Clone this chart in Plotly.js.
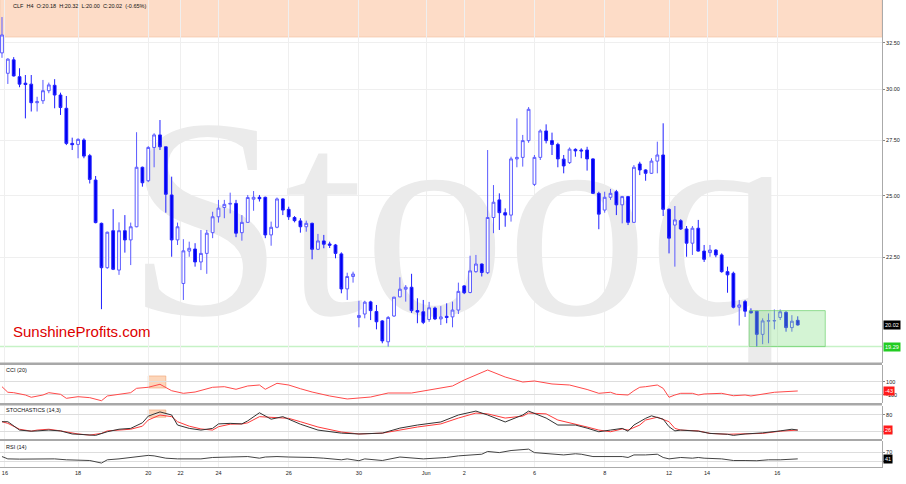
<!DOCTYPE html>
<html><head><meta charset="utf-8">
<script src="https://cdn.plot.ly/plotly-3.0.1.min.js"></script>
<style>html,body{margin:0;padding:0;background:#fff}#chart{width:906px;height:484px}</style>
</head><body><div id="chart"></div>
<script>
const ticker = 'CLF', interval = 'H4';
const opens  = [31.95,30.85,31.57,30.67,30.33,30.28,29.33,29.43,29.94,30.22,29.72,29.05,27.35,27.30,27.51,26.78,25.68,23.84,22.09,23.54,22.00,23.54,23.17,23.70,26.25,25.65,27.16,27.75,27.19,25.03,23.17,21.50,22.73,22.81,22.31,22.64,23.46,24.11,24.50,24.64,24.67,23.46,23.88,24.85,24.93,24.93,23.37,23.68,24.86,24.42,24.08,23.94,23.70,23.84,22.80,23.13,23.01,22.97,22.62,21.30,21.76,20.28,20.40,20.83,20.49,20.16,19.45,20.33,21.01,21.29,21.36,20.52,20.48,20.21,20.61,20.23,20.32,20.30,20.54,21.41,21.17,21.94,22.23,21.90,24.08,24.82,24.28,24.18,26.63,26.70,27.48,25.49,26.70,27.94,27.48,27.30,26.62,26.46,27.07,27.04,27.04,26.63,25.10,24.39,24.93,25.17,24.61,24.96,23.88,26.40,26.13,25.98,26.53,26.81,24.42,23.77,23.95,23.61,23.04,23.64,22.73,22.67,22.77,22.58,21.94,21.88,20.64,20.84,20.50,20.50,19.70,20.15,20.16,20.28,20.46,19.93,20.18];
const highs  = [33.98,31.66,31.72,31.12,30.76,30.76,29.63,30.50,30.36,30.54,29.84,29.67,27.62,27.59,27.59,26.86,25.86,23.87,23.50,24.43,23.88,24.18,23.87,27.88,26.28,27.22,27.83,28.47,27.19,25.83,23.87,23.20,23.10,23.04,23.57,23.57,24.32,24.82,24.82,25.13,24.82,24.18,25.03,25.20,25.03,24.96,23.91,24.92,24.89,24.53,24.14,24.05,23.95,23.87,23.41,23.37,23.10,23.01,22.68,21.90,21.94,20.87,20.87,20.87,20.72,20.19,20.33,21.01,21.73,21.44,21.86,20.96,20.90,20.83,20.66,20.68,20.78,20.84,21.53,21.44,22.55,22.58,22.25,27.04,25.46,25.10,24.46,26.73,28.55,27.75,29.11,26.81,28.02,28.26,27.86,27.38,26.81,27.16,27.12,27.12,27.19,26.66,25.17,25.17,25.29,25.25,24.99,24.99,26.35,26.50,26.16,26.66,27.43,28.31,24.46,24.56,24.01,23.73,23.73,23.98,22.97,22.97,22.80,22.64,22.13,21.94,20.90,20.90,20.60,20.51,20.25,20.42,20.56,20.56,20.50,20.36,20.32];
const lows   = [31.68,30.29,30.68,30.12,28.55,28.89,28.89,29.27,29.81,29.05,28.72,27.27,27.04,26.66,26.66,25.53,23.84,20.57,22.05,22.00,21.82,22.67,22.19,23.68,25.39,25.59,26.25,27.04,24.28,22.51,22.97,20.90,22.51,22.13,22.00,21.86,23.24,23.87,24.05,24.25,23.28,23.14,23.87,24.36,24.75,23.24,22.94,23.64,24.18,23.98,23.88,23.46,23.50,22.41,22.77,22.84,22.85,22.45,21.14,20.90,21.53,19.94,20.25,20.19,19.87,19.40,19.29,20.30,21.00,20.84,20.44,20.08,20.05,20.13,20.19,20.02,20.08,19.94,20.40,21.11,21.14,21.90,21.76,21.85,23.44,23.57,23.70,23.91,26.25,26.28,27.38,25.42,26.58,27.35,26.81,26.25,25.98,26.40,26.73,26.66,26.10,25.07,23.60,24.28,24.82,24.18,23.84,23.77,23.87,25.90,25.65,25.95,25.98,24.14,22.64,22.13,23.57,22.51,22.58,22.71,22.31,22.51,22.49,21.90,21.16,20.60,20.00,20.30,20.42,19.29,19.37,19.40,19.87,20.19,19.79,19.79,20.00];
const closes = [32.95,31.61,30.71,30.28,30.26,29.33,29.38,29.94,30.24,29.72,29.09,27.35,27.29,27.54,26.76,25.71,23.87,22.09,23.48,22.03,23.54,23.17,23.70,26.25,25.56,27.16,27.75,27.19,25.06,23.17,23.70,22.74,22.84,22.31,22.64,23.44,24.11,24.47,24.63,24.67,23.44,23.88,24.92,24.93,24.87,23.37,23.68,24.86,24.39,24.11,23.95,23.70,23.84,22.80,23.13,23.00,22.96,22.64,21.30,21.76,21.85,20.35,20.82,20.52,20.13,19.48,20.28,21.00,21.29,21.36,20.52,20.47,20.11,20.62,20.23,20.30,20.28,20.54,21.21,21.16,21.97,22.23,21.91,24.08,24.72,24.28,24.18,26.63,26.70,27.48,29.00,26.70,27.94,27.48,27.30,26.63,26.31,27.08,27.00,27.00,26.63,25.10,24.22,24.93,25.10,24.61,24.96,23.88,26.25,26.13,25.98,26.53,26.81,24.42,23.24,23.98,23.61,23.04,23.64,22.73,22.41,22.77,22.58,21.94,21.82,20.64,20.72,20.50,20.44,19.70,20.16,20.17,20.17,20.48,19.93,20.15,20.02];

const tickIdx    = [0.5, 13, 25, 30.5, 37, 49, 61, 72.5, 79, 91, 103, 114, 120.5, 132.5];
const tickLabels = ['16','18','20','22','24','26','30','Jun','2','6','8','12','14','16'];
const priceTicks = [22.5, 25, 27.5, 30, 32.5];

const resistanceLow = 32.84;
const supportLevel  = 19.29;
const boxTop = 20.52, boxBottom = 19.29;

const cciIdx = [0,1,2,4,5,7,8,10,11,13,15,17,18,20,22,23,25,27,29,31,33,36,38,40,42,44,45,47,49,51,53,56,59,63,66,70,73,77,79,82,83,86,89,91,94,97,100,102,104,105,107,108,109,110,112,113,114,115,116,118,119,120,123,125,127,128,130,132,136];
const cciVal = [23,-63,-69,-105,-140,-105,-69,-94,-156,-131,-146,-193,-120,-94,-69,-2,14,60,-39,-79,-59,14,23,-17,34,49,-17,75,49,-8,-59,-120,-166,-136,-74,-74,-28,34,126,249,280,172,95,111,65,49,-20,-79,-63,-94,-105,-39,14,23,49,-2,-140,-105,-79,-79,-105,-89,-79,-116,-105,-120,-89,-63,-43];

const stochKIdx = [0,1,3,5,6,8,10,12,13,15,16,18,20,22,24,25,27,29,30,32,34,36,37,39,41,42,44,46,48,49,51,54,58,61,65,68,71,75,78,81,83,86,89,90,93,95,98,100,102,104,106,107,108,110,111,113,114,115,116,119,121,124,125,127,130,133,135,136];
const stochK    = [56,56,26,22,23,26,23,12,11,8,7,20,29,32,52,76,91,80,44,32,26,32,48,50,48,59,88,65,74,65,47,26,15,12,15,33,44,55,80,94,80,55,80,94,69,44,44,33,20,26,32,22,44,68,77,65,38,23,26,22,14,11,7,12,16,23,29,26];
const stochDIdx = [0,1,3,5,6,8,10,12,13,15,17,18,20,22,24,25,27,29,30,32,34,36,37,39,41,42,44,46,48,49,51,54,58,61,65,68,71,75,78,81,83,86,89,90,93,95,98,100,102,104,106,107,109,110,112,114,115,116,119,121,124,127,130,133,136];
const stochD    = [56,50,29,22,26,29,23,14,12,8,14,23,26,29,40,62,80,74,56,40,30,26,38,47,48,52,74,72,68,68,56,37,19,12,15,26,37,48,69,87,84,69,76,87,84,62,48,37,26,20,30,26,44,62,72,56,32,26,23,14,11,12,14,22,26];

const rsiIdx = [0,1,3,5,7,9,11,13,15,17,18,20,22,24,25,26,28,30,32,34,36,38,39,42,44,45,47,49,51,53,55,58,59,61,62,65,68,70,72,74,76,78,80,82,83,85,87,90,91,93,96,98,99,101,102,104,106,107,108,110,112,113,114,116,118,119,120,123,125,127,129,131,133,136];
const rsiVal = [51,41,40,41,41,41,37,34,34,23,37,41,47,51,56,54,44,41,40,41,47,47,49,51,44,49,51,49,49,47,44,37,41,33,41,34,49,44,41,44,47,54,58,61,73,68,77,83,68,63,58,63,61,51,51,54,51,47,58,58,61,47,41,47,44,47,44,41,34,34,33,37,37,41];

const FONT = 'Liberation Sans, Arial, sans-serif';
const idx = opens.map((_, i) => i);
const n = closes.length;
const last = n - 1;
const chg = (closes[last] - closes[last-1]) / closes[last-1] * 100;
const header = `${ticker}  ${interval}  O:${opens[last].toFixed(2)}  H:${highs[last].toFixed(2)}  L:${lows[last].toFixed(2)}  C:${closes[last].toFixed(2)}  (${chg.toFixed(2)}%)`;
const priceRange = [Math.log10(18.77), Math.log10(34.99)];

const traces = [
  // watermark lives on the base price subplot; candles sit on an overlaid copy so they draw above it
  {type:'scatter', mode:'text', x:[78], y:[23.06], text:['Stooq'], textposition:'middle center',
   textfont:{family:'Liberation Serif, Times New Roman, serif', size:285, color:'#ebebeb'},
   hoverinfo:'skip', showlegend:false, cliponaxis:true, xaxis:'x', yaxis:'y'},
  {type:'candlestick', x:idx, open:opens, high:highs, low:lows, close:closes,
   increasing:{line:{color:'#5a5aff', width:1}, fillcolor:'#ffffff'},
   decreasing:{line:{color:'#2020ff', width:1}, fillcolor:'#0000f0'},
   whiskerwidth:0, hoverinfo:'skip', showlegend:false, xaxis:'x', yaxis:'y5'},
  {type:'scatter', mode:'lines', x:cciIdx, y:cciVal, line:{color:'#ff4a4a', width:1}, xaxis:'x', yaxis:'y2', showlegend:false, hoverinfo:'skip'},
  {type:'scatter', mode:'lines', x:stochDIdx, y:stochD, line:{color:'#ff3a3a', width:1}, xaxis:'x', yaxis:'y3', showlegend:false, hoverinfo:'skip'},
  {type:'scatter', mode:'lines', x:stochKIdx, y:stochK, line:{color:'#333333', width:1}, xaxis:'x', yaxis:'y3', showlegend:false, hoverinfo:'skip'},
  {type:'scatter', mode:'lines', x:rsiIdx, y:rsiVal, line:{color:'#444444', width:1}, xaxis:'x', yaxis:'y4', showlegend:false, hoverinfo:'skip'}
];

const H = 467;
const py = v => (H - v) / H;
const yAxisCommon = {side:'right', showline:true, linecolor:'#aaaaaa', linewidth:1, ticks:'outside', ticklen:2, tickcolor:'#888',
  tickfont:{family:FONT, size:5.5, color:'#222'}, gridcolor:'#efefef', zeroline:false, fixedrange:true, anchor:'x'};

const layout = {
  width:906, height:484, margin:{l:0, r:24, t:0, b:17}, paper_bgcolor:'#ffffff', plot_bgcolor:'#ffffff',
  showlegend:false, boxgap:0.32,
  xaxis:{range:[-0.34, 150.4], tickmode:'array', tickvals:tickIdx, ticktext:tickLabels, tickfont:{family:FONT, size:5.5, color:'#222'},
    showgrid:true, gridcolor:'#efefef', zeroline:false, showline:true, linecolor:'#aaaaaa', ticks:'', anchor:'y4',
    rangeslider:{visible:false}, fixedrange:true},
  yaxis:Object.assign({}, yAxisCommon, {domain:[py(362.5), 1], type:'log', range:priceRange,
    tickmode:'array', tickvals:priceTicks, ticktext:priceTicks.map(v => v.toFixed(2))}),
  yaxis5:{overlaying:'y', type:'log', range:priceRange, visible:false, showgrid:false, zeroline:false, fixedrange:true, anchor:'x', side:'right'},
  yaxis2:Object.assign({}, yAxisCommon, {domain:[py(403), py(365)], range:[-228, 357], tickmode:'array', tickvals:[-100, 100], ticktext:['-100','100'], gridcolor:'#dddddd'}),
  yaxis3:Object.assign({}, yAxisCommon, {domain:[py(439), py(405.5)], range:[-6, 114], tickmode:'array', tickvals:[20, 80], ticktext:['20','80'], gridcolor:'#dddddd'}),
  yaxis4:Object.assign({}, yAxisCommon, {domain:[0, py(441)], range:[6, 118], tickmode:'array', tickvals:[30, 70], ticktext:['30','70'], gridcolor:'#dddddd'}),
  shapes:[
    {type:'rect', layer:'below', xref:'x', yref:'y', x0:-0.34, x1:150.4, y0:resistanceLow, y1:40, fillcolor:'#fddcc7', line:{color:'#f6cdb4', width:1}},
    {type:'line', layer:'below', xref:'x', yref:'y', x0:-0.34, x1:150.4, y0:supportLevel, y1:supportLevel, line:{color:'#c6f2c6', width:1.5}},
    {type:'rect', layer:'above', xref:'x', yref:'y', x0:127.7, x1:140.7, y0:boxBottom, y1:boxTop, fillcolor:'rgba(120,220,120,0.32)', line:{color:'rgba(110,210,110,0.7)', width:1}},
    {type:'rect', layer:'below', xref:'x', yref:'y2', x0:25, x1:28, y0:3, y1:188, fillcolor:'rgba(250,180,130,0.55)', line:{color:'rgba(240,160,110,0.6)', width:1}},
    {type:'rect', layer:'below', xref:'x', yref:'y3', x0:25, x1:28, y0:72, y1:98, fillcolor:'rgba(250,180,130,0.55)', line:{color:'rgba(240,160,110,0.6)', width:1}},
    {type:'rect', layer:'above', xref:'paper', yref:'paper', x0:0, x1:1, y0:py(365), y1:py(362.5), fillcolor:'#a8a8a8', line:{width:0}},
    {type:'rect', layer:'above', xref:'paper', yref:'paper', x0:0, x1:1, y0:py(405.5), y1:py(403), fillcolor:'#a8a8a8', line:{width:0}},
    {type:'rect', layer:'above', xref:'paper', yref:'paper', x0:0, x1:1, y0:py(441), y1:py(439), fillcolor:'#a8a8a8', line:{width:0}}
  ],
  annotations:[
    {xref:'paper', yref:'paper', x:0.013, y:py(6), xanchor:'left', yanchor:'middle', text:header, showarrow:false, font:{family:FONT, size:5.5, color:'#111'}},
    {xref:'paper', yref:'paper', x:0.013, y:py(331), xanchor:'left', yanchor:'middle', text:'SunshineProfits.com', showarrow:false, font:{family:FONT, size:15, color:'#dd0000'}},
    {xref:'paper', yref:'paper', x:0.004, y:py(370), xanchor:'left', yanchor:'middle', text:'CCI (20)', showarrow:false, font:{family:FONT, size:5.5, color:'#111'}},
    {xref:'paper', yref:'paper', x:0.004, y:py(410), xanchor:'left', yanchor:'middle', text:'STOCHASTICS (14,3)', showarrow:false, font:{family:FONT, size:5.5, color:'#111'}},
    {xref:'paper', yref:'paper', x:0.004, y:py(446.5), xanchor:'left', yanchor:'middle', text:'RSI (14)', showarrow:false, font:{family:FONT, size:5.5, color:'#111'}},
    {xref:'paper', yref:'y', x:1, y:Math.log10(closes[last]), xanchor:'left', yanchor:'middle', xshift:1, text:closes[last].toFixed(2), showarrow:false, bgcolor:'#000', borderpad:1, font:{family:FONT, size:5.5, color:'#fff'}},
    {xref:'paper', yref:'y', x:1, y:Math.log10(supportLevel), xanchor:'left', yanchor:'middle', xshift:1, text:supportLevel.toFixed(2), showarrow:false, bgcolor:'#22cc22', borderpad:1, font:{family:FONT, size:5.5, color:'#fff'}},
    {xref:'paper', yref:'y2', x:1, y:cciVal[cciVal.length-1], xanchor:'left', yanchor:'middle', xshift:1, text:String(cciVal[cciVal.length-1]), showarrow:false, bgcolor:'#ff1a1a', borderpad:1, font:{family:FONT, size:5.5, color:'#fff'}},
    {xref:'paper', yref:'y3', x:1, y:stochD[stochD.length-1], xanchor:'left', yanchor:'middle', xshift:1, text:String(stochD[stochD.length-1]), showarrow:false, bgcolor:'#ff1a1a', borderpad:1, font:{family:FONT, size:5.5, color:'#fff'}},
    {xref:'paper', yref:'y4', x:1, y:rsiVal[rsiVal.length-1], xanchor:'left', yanchor:'middle', xshift:1, text:String(rsiVal[rsiVal.length-1]), showarrow:false, bgcolor:'#000', borderpad:1, font:{family:FONT, size:5.5, color:'#fff'}}
  ]
};

Plotly.newPlot('chart', traces, layout, {staticPlot:true, displayModeBar:false});
</script>
</body></html>
